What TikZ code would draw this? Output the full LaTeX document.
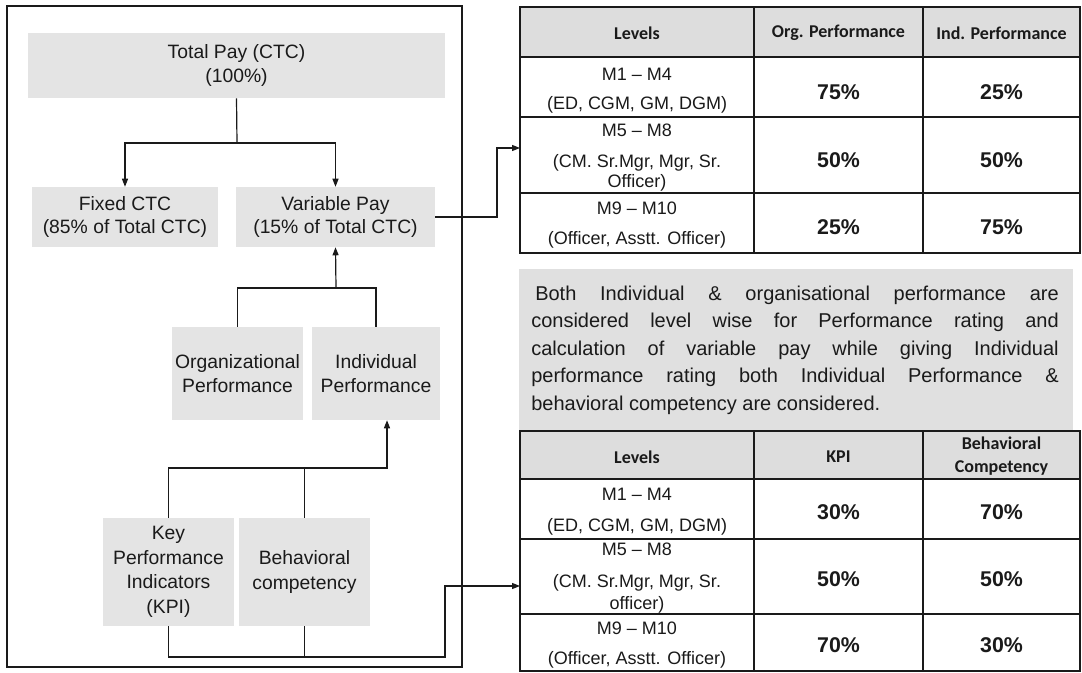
\documentclass[tikz,border=0pt]{standalone}
\usepackage{fontspec}
\setmainfont{Liberation Sans}
\newfontfamily\calib{Carlito}
\usetikzlibrary{arrows.meta}
\newcommand\pxu{0.75pt}
\definecolor{boxgray}{HTML}{E4E4E4}
\definecolor{hdrgray}{HTML}{DDDDDD}
\definecolor{txtgray}{HTML}{E0E0E0}
\definecolor{ink}{HTML}{1A1A1A}
\begin{document}
\begin{tikzpicture}[x=0.75pt,y=-0.75pt,
  box/.style={fill=boxgray, inner sep=0pt, align=center, text=ink, font=\fontsize{14.5}{17.5}\selectfont},
  cell/.style={draw=ink, line width=0.8pt, inner sep=0pt},
  hdr/.style={cell, fill=hdrgray},
  lvl/.style={inner sep=0pt, text=ink, font=\fontsize{13.5}{15}\selectfont},
  pct/.style={inner sep=0pt, text=ink, font=\bfseries\fontsize{16}{18}\selectfont},
  htxt/.style={inner sep=0pt, text=ink, align=center, font=\calib\bfseries\fontsize{13.5}{17}\selectfont},
  conn/.style={draw=ink, line width=0.9pt},
  arr/.style={-{Triangle[length=6pt,width=4.5pt]}}
]
\useasboundingbox (0,0) rectangle (1082,672);
\fill[white] (0,0) rectangle (1082,672);

% ---------- left panel ----------
\node[draw=ink, line width=1.1pt, minimum width=455*\pxu, minimum height=661*\pxu, inner sep=0pt] (frame) at (234.5,336.5) {};

\node[box, minimum width=417*\pxu, minimum height=65*\pxu] (total) at (236.5,65.5) {Total Pay (CTC)\\(100\%)};
\node[box, minimum width=186*\pxu, minimum height=60*\pxu] (fixed) at (125,217) {Fixed CTC\\(85\% of Total CTC)};
\node[box, minimum width=199*\pxu, minimum height=60*\pxu] (var) at (335.5,217) {Variable Pay\\(15\% of Total CTC)};
\node[box, minimum width=131*\pxu, minimum height=93*\pxu] (org) at (237.5,373.5) {Organizational\\Performance};
\node[box, minimum width=128*\pxu, minimum height=93*\pxu] (ind) at (376,373.5) {Individual\\Performance};
\node[box, minimum width=131*\pxu, minimum height=108*\pxu, font=\fontsize{14.5}{18.5}\selectfont] (kpi) at (168.5,572) {Key\\Performance\\Indicators\\(KPI)};
\node[box, minimum width=131*\pxu, minimum height=108*\pxu, font=\fontsize{14.5}{18.5}\selectfont] (beh) at (304.5,572) {Behavioral\\competency};

\coordinate (j1) at (237,143);
\draw[conn] (total.south) -- (j1);
\draw[conn,arr] (j1) -| (fixed.north);
\draw[conn,arr] (j1) -| (var.north);

\coordinate (j2) at (336,288);
\draw[conn] (org.north) -- (org.north |- j2) -- (ind.north |- j2) -- (ind.north);
\draw[conn,arr] (j2) -- (var.south);

\coordinate (j3) at (303,468);
\draw[conn,arr] (kpi.north) -- (kpi.north |- j3) -| ([xshift=8.25pt]ind.south);
\draw[conn] (beh.north) -- (beh.north |- j3);

\coordinate (j4) at (445,657);
\coordinate (t2in) at (520,586);
\draw[conn,arr] (kpi.south) -- (kpi.south |- j4) -- (j4) |- (t2in);
\draw[conn] (beh.south) -- (beh.south |- j4);

\coordinate (j5) at (497,217);
\coordinate (t1in) at (520,148);
\draw[conn,arr] (var.east) -- (j5) |- (t1in);

% ---------- top table ----------
\node[hdr, minimum width=234*\pxu, minimum height=50*\pxu] (a00) at (637,32) {};
\node[hdr, minimum width=169*\pxu, minimum height=50*\pxu] (a01) at (838.5,32) {};
\node[hdr, minimum width=157*\pxu, minimum height=50*\pxu] (a02) at (1001.5,32) {};
\node[cell, minimum width=234*\pxu, minimum height=60*\pxu] (a10) at (637,87) {};
\node[cell, minimum width=169*\pxu, minimum height=60*\pxu] (a11) at (838.5,87) {};
\node[cell, minimum width=157*\pxu, minimum height=60*\pxu] (a12) at (1001.5,87) {};
\node[cell, minimum width=234*\pxu, minimum height=76*\pxu] (a20) at (637,155) {};
\node[cell, minimum width=169*\pxu, minimum height=76*\pxu] (a21) at (838.5,155) {};
\node[cell, minimum width=157*\pxu, minimum height=76*\pxu] (a22) at (1001.5,155) {};
\node[cell, minimum width=234*\pxu, minimum height=60*\pxu] (a30) at (637,223) {};
\node[cell, minimum width=169*\pxu, minimum height=60*\pxu] (a31) at (838.5,223) {};
\node[cell, minimum width=157*\pxu, minimum height=60*\pxu] (a32) at (1001.5,223) {};

\node[htxt] (ah0) at (637,33) {Levels};
\node[htxt] (ah1) at (838.5,33) {Org. Performance};
\node[htxt] (ah2) at (1001.5,33) {Ind. Performance};
\node[lvl] (al1a) at (637,74) {M1 – M4};
\node[lvl] (al1b) at (637,105) {(ED, CGM, GM, DGM)};
\node[lvl] (al2a) at (637,130) {M5 – M8};
\node[lvl] (al2b) at (637,163) {(CM. Sr.Mgr, Mgr, Sr.};
\node[lvl] (al2c) at (637,183) {Officer)};
\node[lvl] (al3a) at (637,208) {M9 – M10};
\node[lvl] (al3b) at (637,240) {(Officer, Asstt. Officer)};
\node[pct] (ap11) at (838.5,92) {75\%};
\node[pct] (ap12) at (1001.5,92) {25\%};
\node[pct] (ap21) at (838.5,160) {50\%};
\node[pct] (ap22) at (1001.5,160) {50\%};
\node[pct] (ap31) at (838.5,227) {25\%};
\node[pct] (ap32) at (1001.5,227) {75\%};

% ---------- note ----------
\node[fill=txtgray, minimum width=554*\pxu, minimum height=167*\pxu, inner sep=0pt] (note) at (796,352.5) {};
\node[inner sep=0pt, text width=395.6pt, align=justify, text=ink, font=\fontsize{15}{20.6}\selectfont] (notetxt) at (795,350)
{\hspace*{3pt}Both Individual \& organisational performance are\linebreak
considered level wise for Performance rating and\linebreak
calculation of variable pay while giving Individual\linebreak
performance rating both Individual Performance \&\linebreak
behavioral competency are considered.};

% ---------- bottom table ----------
\node[hdr, minimum width=234*\pxu, minimum height=48*\pxu] (b00) at (637,455) {};
\node[hdr, minimum width=169*\pxu, minimum height=48*\pxu] (b01) at (838.5,455) {};
\node[hdr, minimum width=157*\pxu, minimum height=48*\pxu] (b02) at (1001.5,455) {};
\node[cell, minimum width=234*\pxu, minimum height=60*\pxu] (b10) at (637,509) {};
\node[cell, minimum width=169*\pxu, minimum height=60*\pxu] (b11) at (838.5,509) {};
\node[cell, minimum width=157*\pxu, minimum height=60*\pxu] (b12) at (1001.5,509) {};
\node[cell, minimum width=234*\pxu, minimum height=75*\pxu] (b20) at (637,576.5) {};
\node[cell, minimum width=169*\pxu, minimum height=75*\pxu] (b21) at (838.5,576.5) {};
\node[cell, minimum width=157*\pxu, minimum height=75*\pxu] (b22) at (1001.5,576.5) {};
\node[cell, minimum width=234*\pxu, minimum height=57*\pxu] (b30) at (637,642.5) {};
\node[cell, minimum width=169*\pxu, minimum height=57*\pxu] (b31) at (838.5,642.5) {};
\node[cell, minimum width=157*\pxu, minimum height=57*\pxu] (b32) at (1001.5,642.5) {};

\node[htxt] (bh0) at (637,457) {Levels};
\node[htxt] (bh1) at (838.5,457) {KPI};
\node[htxt] (bh2) at (1001.5,456) {Behavioral\\Competency};
\node[lvl] (bl1a) at (637,494) {M1 – M4};
\node[lvl] (bl1b) at (637,527) {(ED, CGM, GM, DGM)};
\node[lvl] (bl2a) at (637,549) {M5 – M8};
\node[lvl] (bl2b) at (637,583) {(CM. Sr.Mgr, Mgr, Sr.};
\node[lvl] (bl2c) at (637,605) {officer)};
\node[lvl] (bl3a) at (637,628) {M9 – M10};
\node[lvl] (bl3b) at (637,660) {(Officer, Asstt. Officer)};
\node[pct] (bp11) at (838.5,512) {30\%};
\node[pct] (bp12) at (1001.5,512) {70\%};
\node[pct] (bp21) at (838.5,579) {50\%};
\node[pct] (bp22) at (1001.5,579) {50\%};
\node[pct] (bp31) at (838.5,645) {70\%};
\node[pct] (bp32) at (1001.5,645) {30\%};
\end{tikzpicture}
\end{document}
